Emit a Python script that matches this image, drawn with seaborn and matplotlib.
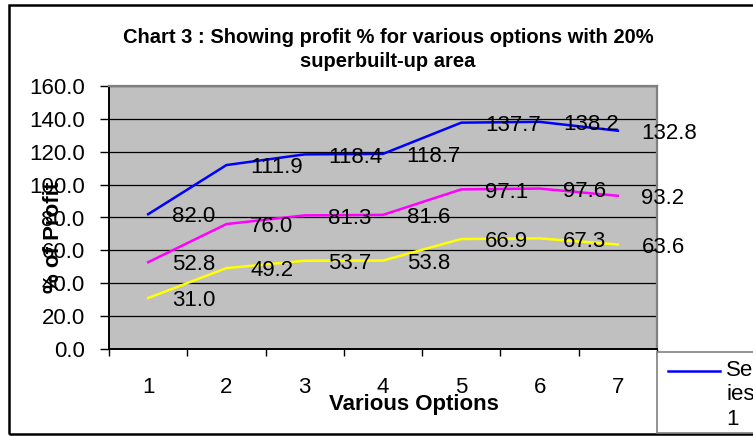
import pandas as pd
import matplotlib.pyplot as plt
import seaborn as sns
from matplotlib.patches import Rectangle
from matplotlib.lines import Line2D
from matplotlib.ticker import FixedLocator, FormatStrFormatter

# valores
opcoes = [1, 2, 3, 4, 5, 6, 7]
serie1 = [82.0, 111.9, 118.4, 118.7, 137.7, 138.2, 132.8]
serie2 = [52.8, 76.0, 81.3, 81.6, 97.1, 97.6, 93.2]
serie3 = [31.0, 49.2, 53.7, 53.8, 66.9, 67.3, 63.6]
nomes = ["Series 1", "Series 2", "Series 3"]
cores = ["#0000FF", "#FF00FF", "#FFFF00"]

df = pd.DataFrame({
    "opcao": opcoes * 3,
    "lucro": serie1 + serie2 + serie3,
    "serie": [nomes[0]] * 7 + [nomes[1]] * 7 + [nomes[2]] * 7,
})

plt.rcParams['font.family'] = ['Liberation Sans', 'DejaVu Sans']

fig = plt.figure(figsize=(7.53, 4.36), dpi=100)
ax = fig.add_axes([109 / 753, 1 - 349 / 436, 548 / 753, 263 / 436])
ax.set_facecolor("#C0C0C0")

sns.lineplot(data=df, x="opcao", y="lucro", hue="serie", palette=dict(zip(nomes, cores)),
             linewidth=1.8, legend=False, ax=ax, zorder=3)

# rótulos de dados
for nome, valores in zip(nomes, [serie1, serie2, serie3]):
    for x, v in zip(opcoes, valores):
        ax.annotate(f"{v:.1f}", (x, v), xytext=(17, -2), textcoords="offset points",
                    ha="left", va="center", fontsize=16, color="black", zorder=4,
                    annotation_clip=False)

ax.set_xlim(0.5, 7.5)
ax.set_ylim(0, 160)
ax.set_yticks(range(0, 161, 20))
ax.yaxis.set_major_formatter(FormatStrFormatter("%.1f"))
ax.grid(axis="y", color="black", linewidth=0.9, zorder=1)
ax.set_axisbelow(True)

ax.xaxis.set_major_locator(FixedLocator(opcoes))
ax.xaxis.set_minor_locator(FixedLocator([x + 0.5 for x in range(0, 8)]))
ax.tick_params(axis="x", which="major", length=0, pad=20, labelsize=16)
ax.tick_params(axis="x", which="minor", length=5, width=1, color="black", direction="out")
ax.tick_params(axis="y", length=6.5, width=1, color="black", pad=11, labelsize=16, direction="out")

for lado in ["left", "bottom"]:
    ax.spines[lado].set_color("black")
    ax.spines[lado].set_linewidth(1.4)
for lado in ["top", "right"]:
    ax.spines[lado].set_color("#808080")
    ax.spines[lado].set_linewidth(1.6)

ax.set_xlabel("Various Options", fontsize=16, fontweight="bold")
ax.xaxis.label.set_va("center")
ax.xaxis.set_label_coords(0.557, -0.21)
ax.set_ylabel("% of Profit", fontsize=16, fontweight="bold")
ax.yaxis.label.set_va("center")
ax.yaxis.set_label_coords(-0.102, 0.426)

fig.text(388 / 753, 1 - 49.5 / 436,
         "Chart 3 : Showing profit % for various options with 20%\nsuperbuilt-up area",
         ha="center", va="center", fontsize=14.5, fontweight="bold", linespacing=1.3)

# moldura do gráfico
fig.patches.append(Rectangle((9 / 753, 1 - 434 / 436), 1.2, 429 / 436, transform=fig.transFigure,
                             fill=False, edgecolor="black", linewidth=1.8, zorder=0))

# legenda (cortada à direita, como no original)
fig.patches.append(Rectangle((657 / 753, 1 - 433 / 436), 0.3, 81 / 436, transform=fig.transFigure,
                             facecolor="white", edgecolor="#808080", linewidth=1.2, zorder=5))
fig.lines.append(Line2D([668 / 753, 720 / 753], [1 - 371 / 436] * 2, transform=fig.transFigure,
                        color=cores[0], linewidth=1.8, zorder=6))
fig.text(726 / 753, 1 - 395 / 436, "Ser\nies\n1", ha="left", va="center",
         fontsize=16, linespacing=1.2, zorder=6)

fig.savefig("out.png", dpi=100)
